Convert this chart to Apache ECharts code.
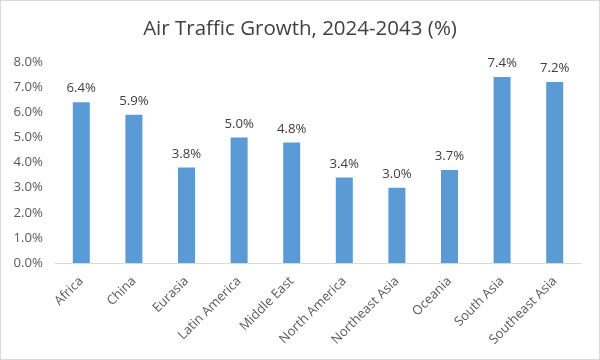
<!DOCTYPE html>
<html><head><meta charset="utf-8">
<script src="https://cdn.jsdelivr.net/npm/echarts@6/dist/echarts.min.js"></script>
<style>
html,body{margin:0;padding:0;background:#fff;}
#c{width:598px;height:358px;border:1px solid #d9d9d9;}
</style></head>
<body><div id="c"></div>
<script>
const categories = ["Africa","China","Eurasia","Latin America","Middle East","North America","Northeast Asia","Oceania","South Asia","Southeast Asia"];
const growth = [6.4,5.9,3.8,5.0,4.8,3.4,3.0,3.7,7.4,7.2];
const titleText = "Air Traffic Growth, 2024-2043 (%)";

const chart = echarts.init(document.getElementById('c'));
chart.setOption({
  animation:false,
  title:{text:titleText,left:'center',top:13,textStyle:{fontFamily:'Open Sans',fontWeight:'normal',fontSize:20.5,color:'#404040'}},
  grid:{left:54,right:18,top:61,bottom:96},
  xAxis:{type:'category',data:categories,
    axisLine:{lineStyle:{color:'#d9d9d9'}},axisTick:{show:false},
    axisLabel:{rotate:45,color:'#595959',fontFamily:'Open Sans',fontSize:13,margin:16,interval:0}},
  yAxis:{type:'value',min:0,max:8,interval:1,
    splitLine:{show:false},axisLine:{show:false},axisTick:{show:false},
    axisLabel:{formatter:v=>v.toFixed(1)+'%',color:'#595959',fontFamily:'Open Sans',fontSize:13.2,margin:12}},
  series:[{type:'bar',data:growth,barWidth:17,
    itemStyle:{color:'#5b9bd5'},
    label:{show:true,position:'top',distance:7,formatter:p=>p.value.toFixed(1)+'%',color:'#404040',fontFamily:'Open Sans',fontSize:13.2}}]
});
</script></body></html>
